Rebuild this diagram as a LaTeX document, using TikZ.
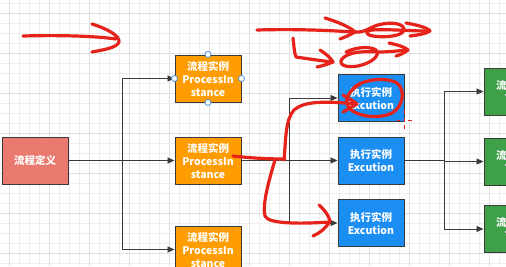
\documentclass[tikz,border=0pt]{standalone}
\usepackage{fontspec}
\newfontfamily\cjk{Noto Sans CJK SC}
\usetikzlibrary{arrows.meta}
\definecolor{salmon}{HTML}{EA7A70}
\definecolor{orng}{HTML}{FF9C00}
\definecolor{blu}{HTML}{1A8EF2}
\definecolor{grn}{HTML}{3FA04A}
\definecolor{pen}{HTML}{E5231B}
\definecolor{edge}{HTML}{3A3A3A}
\definecolor{gridminor}{HTML}{EEEEEE}
\definecolor{gridmajor}{HTML}{E0E0E0}
\definecolor{handle}{HTML}{4A90D9}
\tikzset{
  box/.style={draw=edge, line width=1pt, minimum width=66pt, minimum height=47pt,
    inner sep=0pt, text=white, align=center,
    font=\cjk\bfseries\fontsize{10.5}{13}\selectfont},
  conn/.style={draw=edge, line width=0.9pt},
  arr/.style={conn, -{Triangle[length=7pt,width=6pt]}},
  ink/.style={draw=pen, line width=3.2pt, line cap=round, line join=round},
  hnd/.style={circle, draw=handle, fill=white, line width=0.8pt, minimum size=6pt, inner sep=0pt}
}
\begin{document}
\begin{tikzpicture}[x=1pt,y=-1pt]
\useasboundingbox (0,0) rectangle (506,266);
\clip (0,0) rectangle (506,266);
\fill[white] (0,0) rectangle (506,266);
% grid
\foreach \x in {9,19,...,509} \draw[gridminor, line width=0.8pt] (\x,0) -- (\x,266);
\foreach \y in {3,13,...,263} \draw[gridminor, line width=0.8pt] (0,\y) -- (506,\y);
\foreach \x in {9,49,...,489} \draw[gridmajor, line width=0.9pt] (\x,0) -- (\x,266);
\foreach \y in {13,53,...,253} \draw[gridmajor, line width=0.9pt] (0,\y) -- (506,\y);

% nodes
\node[box, fill=salmon] (root) at (35,160.5) {流程定义};
\node[box, fill=orng] (pi1) at (208,78.5) {流程实例\\ProcessIn\\stance};
\node[box, fill=orng] (pi2) at (208,160.5) {流程实例\\ProcessIn\\stance};
\node[box, fill=orng] (pi3) at (208,249.5) {流程实例\\ProcessIn\\stance};
\node[box, fill=blu] (ex1) at (371,98) {执行实例\\Excution};
\node[box, fill=blu] (ex2) at (371,160.5) {执行实例\\Excution};
\node[box, fill=blu] (ex3) at (371,223) {执行实例\\Excution};
\node[box, fill=grn] (g1) at (517,91.5) {流程任务\\Task};
\node[box, fill=grn] (g2) at (517,161.5) {流程任务\\Task};
\node[box, fill=grn] (g3) at (517,229) {流程任务\\Task};

% connectors
\coordinate (j1) at (122,160.5);
\coordinate (j2) at (289,160.5);
\coordinate (j3) at (444,160.5);
\draw[conn] (root.east) -- (j1);
\draw[arr] (j1) |- (pi1.west);
\draw[arr] (j1) -- (pi2.west);
\draw[arr] (j1) |- (pi3.west);
\draw[conn] (pi2.east) -- (j2);
\draw[arr] (j2) |- (ex1.west);
\draw[arr] (j2) -- (ex2.west);
\draw[arr] (j2) |- (ex3.west);
\draw[conn] (ex2.east) -- (j3);
\draw[arr] (j3) |- (g1.west);
\draw[arr] (j3) |- (g2.west);
\draw[arr] (j3) |- (g3.west);

% selection handles on pi1
\node[hnd] (h1) at (pi1.north) {};
\node[hnd] (h2) at (pi1.south) {};
\node[hnd] (h3) at (pi1.west) {};
\node[hnd] (h4) at (pi1.east) {};

% red annotations
% top-left arrow
\draw[ink] (23,36) .. controls (60,35) and (95,36) .. (116,39);
\draw[ink] (92,24) .. controls (108,29) and (120,36) .. (119,42) .. controls (117,48) and (102,50) .. (92,52);
% top-right: arrow, loop, arrow
\draw[ink] (257,30) .. controls (290,29) and (325,30) .. (353,32);
\draw[ink] (325,18) .. controls (338,22) and (350,27) .. (355,32) .. controls (350,35) and (345,37) .. (340,39);
\draw[ink] (355,32) .. controls (365,33) and (370,27) .. (378,25) .. controls (392,21) and (405,24) .. (404,30) .. controls (403,36) and (385,38) .. (373,36) .. controls (366,35) and (364,31) .. (372,30) .. controls (388,29) and (410,31) .. (428,31);
\draw[ink] (406,23) .. controls (418,25) and (428,28) .. (430,31) .. controls (425,34) and (418,35) .. (410,36);
% second row: L arrow, loop, arrow
\draw[ink] (293,38) .. controls (294,45) and (294,52) .. (296,57) .. controls (310,59) and (322,61) .. (333,62);
\draw[ink] (320,50) .. controls (326,54) and (331,58) .. (333,62) .. controls (328,64) and (322,66) .. (317,67);
\draw[ink] (346,52) .. controls (356,47) and (370,46) .. (376,50) .. controls (381,55) and (372,63) .. (358,66) .. controls (346,68) and (338,65) .. (342,59) .. controls (348,52) and (362,51) .. (378,52) .. controls (388,52) and (398,51) .. (406,50);
\draw[ink] (389,43) .. controls (398,45) and (405,47) .. (408,50) .. controls (404,53) and (400,55) .. (396,56);
% circle around Ex1 text
\draw[ink] (352,90) .. controls (358,80) and (385,76) .. (397,83) .. controls (406,90) and (403,107) .. (392,113) .. controls (378,120) and (353,116) .. (348,106) .. controls (345,100) and (347,92) .. (360,84);
% curve from pi2 to ex1 and ex3
\draw[ink] (233,156) .. controls (250,158) and (268,159) .. (285,159);
\draw[ink] (284,160) .. controls (286,140) and (285,120) .. (294,110) .. controls (304,101) and (325,101) .. (356,104);
\draw[ink] (343,95) .. controls (349,99) and (354,101) .. (357,104) .. controls (352,107) and (348,109) .. (343,112);
\draw[ink] (275,160) .. controls (269,180) and (262,205) .. (265,216) .. controls (268,224) and (300,224) .. (330,222);
\draw[ink] (319,205) .. controls (324,209) and (329,216) .. (330,221) .. controls (326,228) and (320,233) .. (313,236);
% cursor marks
\draw[pen, line width=1pt] (404,110) -- (404,114) (404,118) -- (404,122) (404,125) -- (404,129);
\draw[pen, line width=1pt] (397,120) -- (400,120) (408,120) -- (412,120);
\end{tikzpicture}
\end{document}
